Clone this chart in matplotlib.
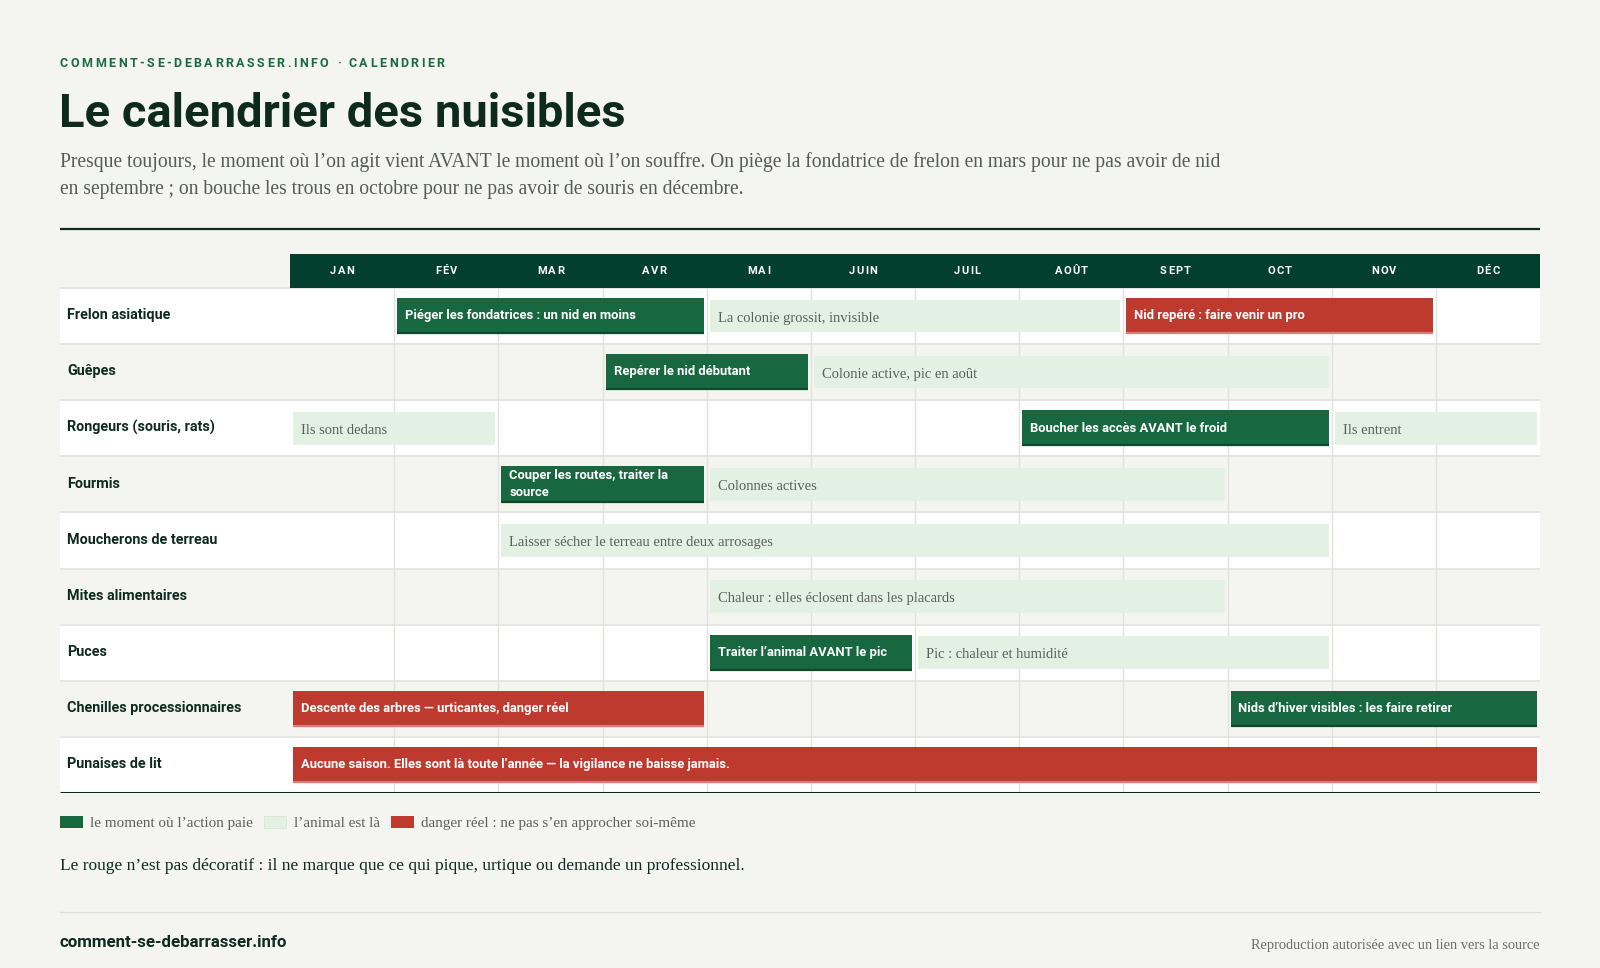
import matplotlib
matplotlib.use("Agg")
import matplotlib.pyplot as plt
from matplotlib.font_manager import FontProperties
from matplotlib.patches import Rectangle

# ---------------- data ----------------
months = ["JAN", "FÉV", "MAR", "AVR", "MAI", "JUIN", "JUIL", "AOÛT", "SEPT", "OCT", "NOV", "DÉC"]
pests = ["Frelon asiatique", "Guêpes", "Rongeurs (souris, rats)", "Fourmis",
         "Moucherons de terreau", "Mites alimentaires", "Puces",
         "Chenilles processionnaires", "Punaises de lit"]

bar_rows   = [0, 0, 0, 1, 1, 2, 2, 2, 3, 3, 4, 5, 6, 6, 7, 7, 8]
bar_starts = [1, 4, 8, 3, 5, 0, 7, 10, 2, 4, 2, 4, 4, 6, 0, 9, 0]
bar_ends   = [4, 8, 11, 5, 10, 2, 10, 12, 4, 9, 10, 9, 6, 10, 4, 12, 12]
bar_kinds  = ["action", "presence", "danger",
              "action", "presence",
              "presence", "action", "presence",
              "action", "presence",
              "presence",
              "presence",
              "action", "presence",
              "danger", "action",
              "danger"]
bar_labels = ["Piéger les fondatrices : un nid en moins", "La colonie grossit, invisible",
              "Nid repéré : faire venir un pro",
              "Repérer le nid débutant", "Colonie active, pic en août",
              "Ils sont dedans", "Boucher les accès AVANT le froid", "Ils entrent",
              "Couper les routes, traiter la\nsource", "Colonnes actives",
              "Laisser sécher le terreau entre deux arrosages",
              "Chaleur : elles éclosent dans les placards",
              "Traiter l\u2019animal AVANT le pic", "Pic : chaleur et humidité",
              "Descente des arbres \u2014 urticantes, danger réel",
              "Nids d\u2019hiver visibles : les faire retirer",
              "Aucune saison. Elles sont là toute l\u2019année \u2014 la vigilance ne baisse jamais."]

legend_kinds = ["action", "presence", "danger"]
legend_labels = ["le moment où l\u2019action paie", "l\u2019animal est là",
                 "danger réel : ne pas s\u2019en approcher soi-même"]

kicker = "COMMENT-SE-DEBARRASSER.INFO · CALENDRIER"
title = "Le calendrier des nuisibles"
subtitle = ["Presque toujours, le moment où l\u2019on agit vient AVANT le moment où l\u2019on souffre. "
            "On piège la fondatrice de frelon en mars pour ne pas avoir de nid",
            "en septembre ; on bouche les trous en octobre pour ne pas avoir de souris en décembre."]
note = "Le rouge n\u2019est pas décoratif : il ne marque que ce qui pique, urtique ou demande un professionnel."
footer_left = "comment-se-debarrasser.info"
footer_right = "Reproduction autorisée avec un lien vers la source"

# ---------------- style ----------------
BG = "#f4f4f1"
INK = "#0e2a1f"
HEAD = "#033f2d"
ACCENT = "#1b6b41"
GRID = "#e2e2df"
GRAYTXT = "#5a5f5b"
fills = {"action": "#176840", "presence": "#e3f1e4", "danger": "#be3a2f"}
edges = {"action": "#0c4a2b", "presence": "#e3f1e4", "danger": "#e07a72"}

SANS = "Roboto"
SERIF = "Liberation Serif"

W, H = 1600, 968
fig = plt.figure(figsize=(W / 100, H / 100), dpi=100, facecolor=BG)
renderer = fig.canvas.get_renderer()


def text_width(s, prop):
    if not s:
        return 0.0
    w, h, d = renderer.get_text_width_height_descent(s, prop, ismath=False)
    return w


# ---------------- chart axes ----------------
x0_px, x1_px, xm_px = 60, 1540, 290
y0_px, yh_px, y1_px = 254, 288, 793
mw = (x1_px - xm_px) / 12.0
rh = (y1_px - yh_px) / len(pests)
ax = fig.add_axes([x0_px / W, 1 - y1_px / H, (x1_px - x0_px) / W, (y1_px - y0_px) / H], zorder=1)
xmin = -(xm_px - x0_px) / mw
ax.set_xlim(xmin, 12)
ax.set_ylim(len(pests), -(yh_px - y0_px) / rh)
ax.axis("off")
ax.patch.set_alpha(0)

# overlay in pixel coordinates (on top, transparent)
ov = fig.add_axes([0, 0, 1, 1], zorder=2)
ov.set_xlim(0, W); ov.set_ylim(H, 0); ov.axis("off")
ov.patch.set_alpha(0)


def tracked(axx, x, y, s, prop, color, track, ha="left", **kw):
    total = text_width(s, prop) + track * (len(s) - 1)
    if ha == "center":
        x = x - total / 2
    for i, ch in enumerate(s):
        xo = text_width(s[:i], prop) + track * i
        axx.text(x + xo, y, ch, fontproperties=prop, color=color, ha="left",
                 va="center_baseline", **kw)


# header texts
tracked(ov, 60, 62, kicker, FontProperties(family=SANS, weight="bold", size=9.0), ACCENT, 2.5)
ov.text(59, 127, title, fontproperties=FontProperties(family=SANS, weight="bold", size=33.9),
        color=INK, ha="left", va="baseline")
for i, line in enumerate(subtitle):
    ov.text(60, 166.5 + i * 27.5, line, fontproperties=FontProperties(family=SERIF, size=14.1),
            color="#575b57", ha="left", va="baseline")
ov.plot([60, 1540], [228.5, 228.5], color=INK, lw=1.6, solid_capstyle="butt")

# row backgrounds
for i, p in enumerate(pests):
    ax.add_patch(Rectangle((xmin, i), 12 - xmin, 1, facecolor="white" if i % 2 == 0 else BG,
                           edgecolor="none", zorder=0))
# grid
for m in range(1, 12):
    ax.plot([m, m], [0, len(pests)], color=GRID, lw=1.0, zorder=1)
for i in range(len(pests)):
    ax.plot([xmin, 12], [i, i], color=GRID, lw=1.2, zorder=1)

# month header band
hb = -(yh_px - y0_px) / rh
ax.add_patch(Rectangle((0, hb), 12, -hb, facecolor=HEAD, edgecolor="none", zorder=2))
mprop = FontProperties(family=SANS, weight="bold", size=8.0)
for m, lab in enumerate(months):
    cx = xm_px + (m + 0.5) * mw
    tracked(ov, cx, (y0_px + yh_px) / 2 - 0.8, lab, mprop, "white", 1.3, ha="center", zorder=5)

# row labels
lprop = FontProperties(family=SANS, weight="bold", size=10.4)
for i, p in enumerate(pests):
    ax.text(xmin + 7 / mw, i + 0.46, p, fontproperties=lprop, color=INK, ha="left",
            va="center_baseline", zorder=3)

# bars
pad = 3 / mw
bprop = FontProperties(family=SANS, weight="bold", size=9.35)
sprop = FontProperties(family=SERIF, size=10.5)
for r, s, e, k, lab in zip(bar_rows, bar_starts, bar_ends, bar_kinds, bar_labels):
    if k == "presence":
        top, bot = 0.21, 0.79
    else:
        top, bot = 0.18, 0.82
    ax.add_patch(Rectangle((s + pad, r + top), e - s - 2 * pad, bot - top,
                           facecolor=fills[k], edgecolor="none", zorder=3))
    if k != "presence":
        ax.plot([s + pad, e - pad], [r + bot - 0.015, r + bot - 0.015], color=edges[k], lw=1.6,
                solid_capstyle="butt", zorder=4)
        if "\n" in lab:
            l1, l2 = lab.split("\n")
            ax.text(s + pad + 8 / mw, r + 0.32, l1, fontproperties=bprop, color="white",
                    ha="left", va="center_baseline", zorder=5)
            ax.text(s + pad + 8 / mw, r + 0.61, l2, fontproperties=bprop, color="white",
                    ha="left", va="center_baseline", zorder=5)
        else:
            ax.text(s + pad + 8 / mw, r + 0.47, lab, fontproperties=bprop, color="white",
                    ha="left", va="center_baseline", zorder=5)
    else:
        ax.text(s + pad + 8 / mw, r + 0.51, lab, fontproperties=sprop, color=GRAYTXT,
                ha="left", va="center_baseline", zorder=5)

ax.plot([xmin, 12], [len(pests), len(pests)], color=INK, lw=2.2, solid_capstyle="butt", zorder=6)

# ---------------- legend ----------------
legprop = FontProperties(family=SERIF, size=10.9)
x = 60
for k, lab in zip(legend_kinds, legend_labels):
    ov.add_patch(Rectangle((x, 815.5), 22.5, 12, facecolor=fills[k],
                           edgecolor="#d8e6d9" if k == "presence" else "none", lw=0.6))
    ov.text(x + 30, 822, lab, fontproperties=legprop, color="#5d615d", ha="left",
            va="center_baseline")
    x += 30 + text_width(lab, legprop) + 11

ov.text(60, 864, note, fontproperties=FontProperties(family=SERIF, size=12.5), color=INK,
        ha="left", va="center_baseline")
ov.plot([60, 1540], [912, 912], color="#dddddb", lw=1.0)
ov.text(60, 941, footer_left, fontproperties=FontProperties(family=SANS, weight="bold", size=12.2),
        color=INK, ha="left", va="center_baseline")
ov.text(1540, 944, footer_right, fontproperties=FontProperties(family=SERIF, size=10.4),
        color="#6a6e6a", ha="right", va="center_baseline")

fig.savefig("out.png", dpi=100, facecolor=BG)
